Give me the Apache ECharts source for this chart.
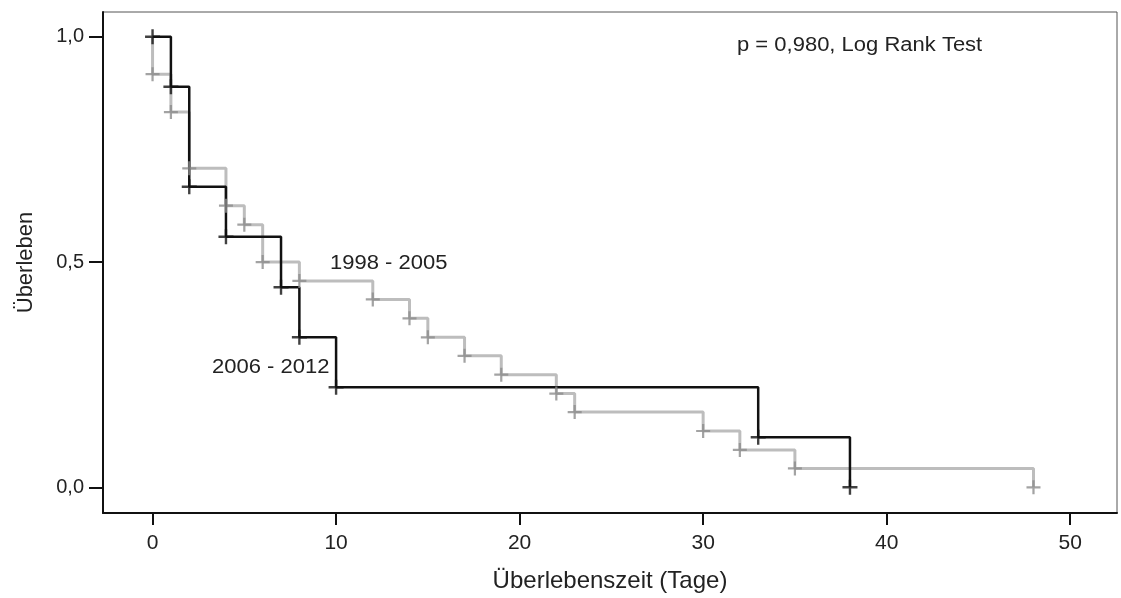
<!DOCTYPE html>
<html>
<head>
<meta charset="utf-8">
<script src="https://cdn.jsdelivr.net/npm/echarts@6/dist/echarts.min.js"></script>
<style>
  html, body { margin: 0; padding: 0; background: #fff; }
  #main { width: 1121px; height: 598px; }
</style>
</head>
<body>
<div id="main"></div>
<script>
// Kaplan-Meier Daten
// Gruppe 2006 - 2012 (schwarz)
var timesNew = [0, 1, 2, 4, 7, 8, 10, 33, 38];
var survNew  = [1.0, 0.889, 0.667, 0.556, 0.444, 0.333, 0.222, 0.111, 0.0];
// Gruppe 1998 - 2005 (grau), startet bei 1,0
var timesOld = [0, 1, 2, 4, 5, 6, 8, 12, 14, 15, 17, 19, 22, 23, 30, 32, 35, 48];
var survOld  = [0.917, 0.833, 0.708, 0.625, 0.583, 0.5, 0.458, 0.417, 0.375, 0.333, 0.292, 0.25, 0.208, 0.167, 0.125, 0.083, 0.042, 0.0];

var xTicks = [0, 10, 20, 30, 40, 50];
var yTicks = [0, 0.5, 1.0];

var labelFont = "Liberation Sans, Arial, sans-serif";
var plusPath = 'path://M4.2,0H5.8V4.2H10V5.8H5.8V10H4.2V5.8H0V4.2H4.2Z';

function pairs(t, s) {
	var out = [];
	for (var i = 0; i < t.length; i++) out.push([t[i], s[i]]);
	return out;
}

var markNew = pairs(timesNew, survNew);
var markOld = pairs(timesOld, survOld);
var lineNew = markNew.slice();
var lineOld = [[0, 1.0]].concat(markOld);

var chart = echarts.init(document.getElementById('main'));

var option = {
	animation: false,
	backgroundColor: '#fff',
	grid: {
		left: 103, right: 4, top: 12, bottom: 82,
		show: true, borderColor: '#555', borderWidth: 1
	},
	xAxis: {
		type: 'value',
		min: -2.7, max: 52.55,
		name: 'Überlebenszeit (Tage)',
		nameLocation: 'middle',
		nameGap: 56,
		nameTextStyle: { fontFamily: labelFont, fontSize: 24, color: '#222' },
		axisLine: { show: true, onZero: false, lineStyle: { color: '#111', width: 2 } },
		axisTick: { show: true, length: 12, customValues: xTicks, lineStyle: { color: '#111', width: 2 } },
		axisLabel: {
			customValues: xTicks, margin: 20,
			fontFamily: labelFont, fontSize: 21, color: '#222',
			formatter: function (v) { return String(v); }
		},
		splitLine: { show: false }
	},
	yAxis: {
		type: 'value',
		min: -0.057, max: 1.055,
		name: 'Überleben',
		nameLocation: 'middle',
		nameGap: 66,
		nameTextStyle: { fontFamily: labelFont, fontSize: 22, color: '#222' },
		axisLine: { show: true, onZero: false, lineStyle: { color: '#111', width: 2 } },
		axisTick: { show: true, length: 14, customValues: yTicks, lineStyle: { color: '#111', width: 2 } },
		axisLabel: {
			customValues: yTicks, margin: 19,
			fontFamily: labelFont, fontSize: 20, color: '#222',
			formatter: function (v) { return v.toFixed(1).replace('.', ','); }
		},
		splitLine: { show: false }
	},
	series: [
		{
			name: '1998 - 2005',
			type: 'line',
			step: 'end',
			data: lineOld,
			showSymbol: false,
			lineStyle: { color: '#bdbdbd', width: 3 },
			z: 2
		},
		{
			name: '2006 - 2012',
			type: 'line',
			step: 'end',
			data: lineNew,
			showSymbol: false,
			lineStyle: { color: '#111', width: 2.5 },
			z: 3
		},
		{
			type: 'scatter',
			data: markOld,
			symbol: plusPath,
			symbolSize: 14,
			itemStyle: { color: '#8c8c8c' },
			z: 4
		},
		{
			type: 'scatter',
			data: markNew,
			symbol: plusPath,
			symbolSize: 15,
			itemStyle: { color: '#111' },
			z: 5
		}
	],
	graphic: [
		{
			type: 'text', x: 737, y: 45, z: 10, scaleX: 1.1,
			style: { text: 'p = 0,980, Log Rank Test', font: '20px ' + labelFont, fill: '#222', verticalAlign: 'middle' }
		},
		{
			type: 'text', x: 330, y: 263, z: 10, scaleX: 1.1,
			style: { text: '1998 - 2005', font: '20px ' + labelFont, fill: '#222', verticalAlign: 'middle' }
		},
		{
			type: 'text', x: 212, y: 367, z: 10, scaleX: 1.1,
			style: { text: '2006 - 2012', font: '20px ' + labelFont, fill: '#222', verticalAlign: 'middle' }
		}
	]
};

chart.setOption(option);
</script>
</body>
</html>
